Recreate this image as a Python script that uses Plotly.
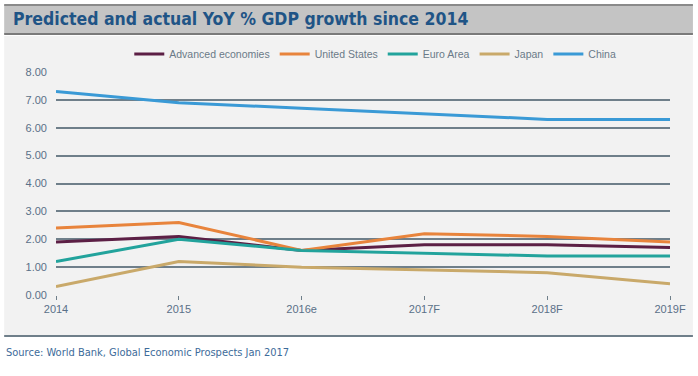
import plotly.graph_objects as go

years = ["2014", "2015", "2016e", "2017F", "2018F", "2019F"]
advanced = [1.9, 2.1, 1.6, 1.8, 1.8, 1.7]
united_states = [2.4, 2.6, 1.6, 2.2, 2.1, 1.9]
euro_area = [1.2, 2.0, 1.6, 1.5, 1.4, 1.4]
japan = [0.3, 1.2, 1.0, 0.9, 0.8, 0.4]
china = [7.3, 6.9, 6.7, 6.5, 6.3, 6.3]
y_ticks = [0, 1, 2, 3, 4, 5, 6, 7, 8]

series = [
    ("Advanced economies", advanced, "#5c1f45"),
    ("United States", united_states, "#e8843c"),
    ("Euro Area", euro_area, "#22a39c"),
    ("Japan", japan, "#c9a96a"),
    ("China", china, "#3a9ad6"),
]

W, H = 698, 376
L, R, T, B = 56, 26, 72, 81
pw, ph = W - L - R, H - T - B

def px(x):
    return (x - L) / pw

def py(y):
    return (H - B - y) / ph

fig = go.Figure()
for name, vals, col in series:
    fig.add_trace(go.Scatter(x=years, y=vals, name=name, mode="lines",
                             line=dict(color=col, width=3)))

shapes = [
    dict(type="rect", xref="paper", yref="paper", x0=px(4), x1=px(695), y0=py(34), y1=py(5),
         fillcolor="#c4c4c4", line=dict(width=0), layer="below"),
    dict(type="line", xref="paper", yref="paper", x0=px(4), x1=px(695), y0=py(5), y1=py(5),
         line=dict(color="#8a8a8a", width=2)),
    dict(type="line", xref="paper", yref="paper", x0=px(4), x1=px(695), y0=py(34), y1=py(34),
         line=dict(color="#7a7a7a", width=2)),
    dict(type="rect", xref="paper", yref="paper", x0=px(4), x1=px(695), y0=py(336), y1=py(36),
         fillcolor="#f2f2f2", line=dict(width=0), layer="below"),
    dict(type="line", xref="paper", yref="paper", x0=px(4), x1=px(695), y0=py(336), y1=py(336),
         line=dict(color="#6f7f8a", width=2)),
]

narrow = "DejaVu Sans Condensed, Liberation Sans Narrow, Arial Narrow, sans-serif"

fig.update_layout(
    width=W, height=H,
    margin=dict(l=L, r=R, t=T, b=B),
    paper_bgcolor="white",
    plot_bgcolor="rgba(0,0,0,0)",
    shapes=shapes,
    showlegend=True,
    legend=dict(orientation="h", x=0.52, xanchor="center", y=py(54), yanchor="middle",
                font=dict(family="Liberation Sans, Arial, sans-serif", size=10.5, color="#6a7a88"),
                bgcolor="rgba(0,0,0,0)", itemwidth=30, tracegroupgap=0),
    annotations=[
        dict(text="<b>Predicted and actual YoY % GDP growth since 2014</b>", xref="paper", yref="paper",
             x=px(11), y=py(19), xanchor="left", yanchor="middle", showarrow=False,
             font=dict(family=narrow, size=17.5, color="#1f5486")),
        dict(text="Source: World Bank, Global Economic Prospects Jan 2017", xref="paper", yref="paper",
             x=px(4), y=py(353), xanchor="left", yanchor="middle", showarrow=False,
             font=dict(family=narrow, size=11, color="#3d6b9a")),
    ],
    xaxis=dict(type="category", range=[0, 5], showgrid=False, zeroline=False,
               showline=False, ticks="outside", ticklen=4, tickcolor="#6f7f8a",
               tickfont=dict(family="Liberation Sans, Arial, sans-serif", size=11, color="#5a7088")),
    yaxis=dict(range=[0, 8], tickvals=y_ticks, tickformat=".2f", showgrid=True,
               gridcolor="#6f7f8a", gridwidth=1.5, zeroline=False, showline=False,
               ticks="", ticklabelstandoff=8,
               tickfont=dict(family="Liberation Sans, Arial, sans-serif", size=11, color="#5a7088")),
)

fig.write_html("out.html", config={"displayModeBar": False},
               post_script="document.body.style.margin='0';")
